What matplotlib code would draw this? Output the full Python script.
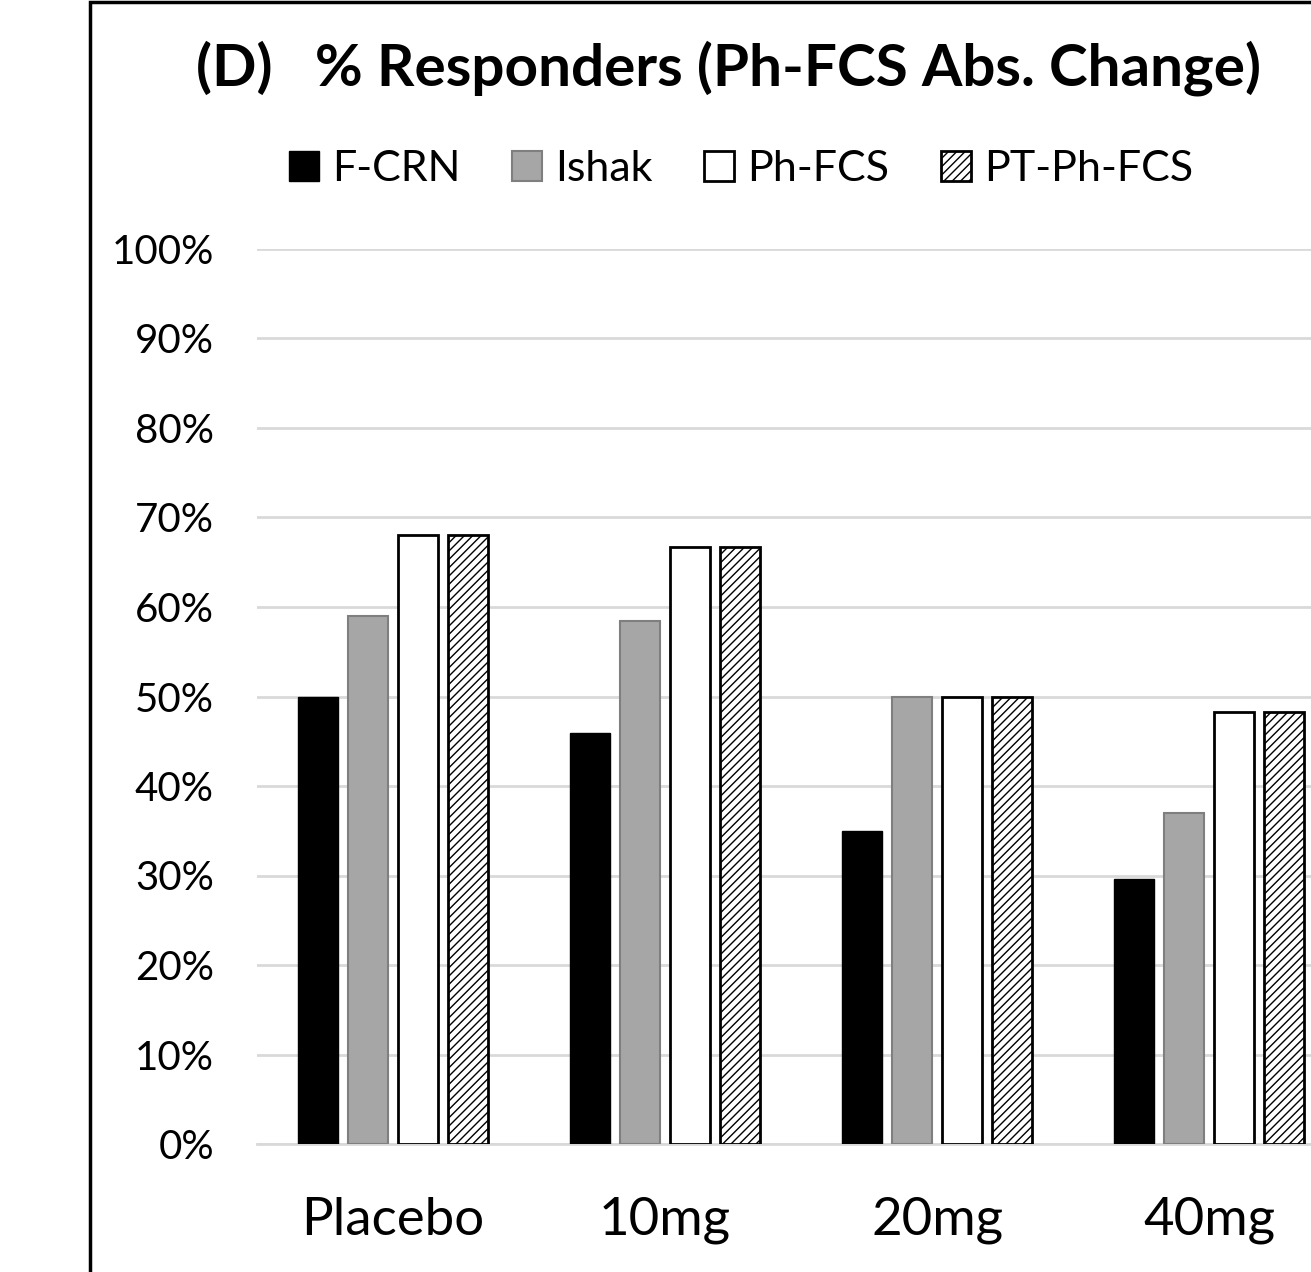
import numpy as np
import matplotlib
matplotlib.use('Agg')
import matplotlib.pyplot as plt
from matplotlib.patches import Rectangle
from matplotlib.ticker import PercentFormatter

# Data
categories = ['Placebo', '10mg', '20mg', '40mg']
series = ['F-CRN', 'Ishak', 'Ph-FCS', 'PT-Ph-FCS']
f_crn = [50.0, 45.9, 35.0, 29.6]
ishak = [59.0, 58.4, 50.0, 37.0]
ph_fcs = [68.0, 66.7, 50.0, 48.3]
pt_ph_fcs = [68.0, 66.7, 50.0, 48.3]
y_ticks = [0, 10, 20, 30, 40, 50, 60, 70, 80, 90, 100]

plt.rcParams['font.family'] = ['Lato', 'DejaVu Sans']
plt.rcParams['hatch.linewidth'] = 1.0

fig = plt.figure(figsize=(13.11, 12.72), dpi=100)
ax = fig.add_axes([257 / 1311, 1 - 1144 / 1272, 1088 / 1311, 895 / 1272])

x = np.arange(len(categories))
width = 0.147
step = 0.184
styles = [
    dict(color='black', edgecolor='black', linewidth=1.0),
    dict(color='#a6a6a6', edgecolor='#7f7f7f', linewidth=1.5),
    dict(color='white', edgecolor='black', linewidth=2.0),
    dict(color='white', edgecolor='black', linewidth=2.0, hatch='////'),
]
values = [f_crn, ishak, ph_fcs, pt_ph_fcs]
for i, (name, vals, st) in enumerate(zip(series, values, styles)):
    ax.bar(x + (i - 1.5) * step, vals, width, label=name, zorder=3, **st)

ax.set_xlim(-0.5, len(categories) - 0.5)
ax.set_ylim(0, 100)
ax.set_yticks(y_ticks)
ax.yaxis.set_major_formatter(PercentFormatter(decimals=0))
ax.set_xticks(x)
ax.set_xticklabels(categories)
ax.tick_params(axis='y', length=0, pad=31, labelsize=29, labelcolor='#000000')
ax.tick_params(axis='x', length=0, pad=38, labelsize=38)
ax.grid(axis='y', color='#d9d9d9', linewidth=2, zorder=0)
ax.set_axisbelow(True)
for s in ['top', 'right', 'left']:
    ax.spines[s].set_visible(False)
ax.spines['bottom'].set_color('#d9d9d9')
ax.spines['bottom'].set_linewidth(2)

fig.text(728 / 1311, 1 - 68 / 1272, '(D)   % Responders (Ph-FCS Abs. Change)',
         ha='center', va='center', fontsize=42, fontweight='bold')

fig.legend(loc='center', bbox_to_anchor=(741 / 1311, 1 - 169 / 1272), ncol=4,
           frameon=False, fontsize=31, handlelength=0.7, handleheight=0.7,
           handletextpad=0.3, columnspacing=1.2)

# outer frame, cut off at the right and bottom like the source image
fig.patches.append(Rectangle((90 / 1311, -0.5), 2, 0.5 + 1 - 2 / 1272,
                             transform=fig.transFigure, fill=False,
                             edgecolor='black', linewidth=2.5))

fig.savefig('out.png', dpi=100)
